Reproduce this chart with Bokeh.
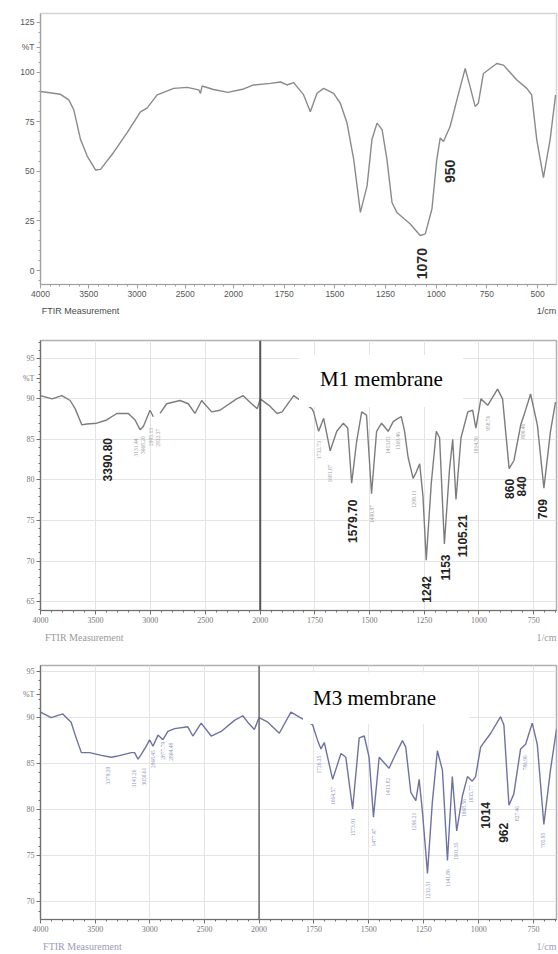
import numpy as np
from bokeh.plotting import figure
from bokeh.layouts import column
from bokeh.models import FixedTicker, Label, BoxAnnotation, Span, Range1d, LinearAxis
from bokeh.embed import file_html
from bokeh.resources import INLINE

# ---------------- data ----------------
# Panel A (top): silica-like spectrum
wn_a = [4000, 3793, 3707, 3655, 3585, 3516, 3430, 3378, 3243, 3102, 2964, 2894, 2791, 2619, 2480,
        2360, 2342, 2325, 2207, 2060, 1950, 1901, 1818, 1768, 1736, 1703, 1654, 1621, 1588, 1555,
        1506, 1473, 1440, 1407, 1374, 1341, 1317, 1292, 1267, 1243, 1218, 1194, 1128, 1079, 1054,
        1021, 997, 980, 964, 931, 898, 857, 833, 808, 792, 767, 701, 668, 602, 553, 529, 504, 471,
        438, 411]
t_a = [90.2, 88.8, 86, 81, 66, 57.7, 50.7, 51, 59.5, 69.5, 80, 82, 88.5, 91.8, 92.3,
       91, 89.3, 93, 91.2, 89.8, 91.5, 93.5, 94.3, 95, 93.5, 94.7, 88.5, 80, 89.3, 91.8,
       89.3, 84.3, 74.3, 56, 29.3, 42.7, 66, 74.3, 71, 56, 34.3, 29.3, 23.5, 17.7, 18.5,
       31, 56, 66.8, 65, 72.7, 86, 101.8, 92.7, 82.7, 84.3, 99.3, 104.3, 103.5, 96, 91.8, 88.5, 66, 46.8,
       66, 88.5]

# Panel M1 membrane
wn_m1 = [4000, 3894, 3806, 3730, 3685, 3624, 3579, 3488, 3397, 3306, 3200, 3139, 3094, 3064, 3003,
         2973, np.nan, 2912, 2852, 2730, 2655, 2594, 2533, 2442, 2367, 2215, 2155, 2079, 2027, 2000,
         1960, 1923, 1900, 1847, 1764, 1756, 1733, 1710, 1680, 1650, 1620, 1600, 1582, 1559, 1536,
         1514, 1491, 1468, 1445, 1415, 1392, 1370, 1355, 1340, 1324, 1301, 1286, 1271, 1256, 1241,
         1218, 1195, 1180, 1158, 1135, 1120, 1105, 1082, 1051, 1029, 1014, 991, 960, 915, 892,
         862, 840, 809, 794, 764, 733, 703, 673, 650]
t_m1 = [90.4, 90, 90.4, 89.8, 88.8, 86.8, 86.9, 87, 87.4, 88.2, 88.2, 87.4, 86.2, 86.6, 88.6,
        87.8, np.nan, 88.2, 89.4, 89.8, 89.4, 88.2, 89.8, 88.4, 88.6, 90, 90.4, 89.4, 88.8, 90,
        89.2, 88.2, 88.4, 90.4, 88.8, 88.4, 86, 87.6, 83.6, 86, 87, 86.4, 79.6, 84.8, 88.4,
        88, 78.3, 86, 87, 86, 87.2, 87.6, 87.8, 86, 82.8, 80.2, 81, 82, 78, 70.1,
        79.6, 86, 85.2, 72.1, 81.2, 85, 77.6, 85.2, 88.4, 88.6, 86.4, 90, 89.2, 91.2, 90,
        81.4, 82.4, 86.8, 88, 90.6, 86.8, 79, 86, 89.6]

# Panel M3 membrane
wn_m3 = [4000, 3902, 3796, 3720, 3674, 3626, 3550, 3443, 3352, 3306, 3169, 3139, 3108, 3078, 3032,
         3002, 2971, 2925, 2880, 2834, 2773, 2652, 2606, 2530, 2438, 2347, 2225, 2149, 2104, 2043,
         2000, 1960, 1908, 1855, 1756, 1733, 1718, 1703, 1665, 1627, 1605, 1574, 1544, 1521, 1499,
         1479, 1453, 1408, 1385, 1347, 1332, 1309, 1286, 1271, 1256, 1233, 1211, 1188, 1165, 1142,
         1120, 1100, 1074, 1051, 1029, 1014, 991, 945, 900, 885, 862, 840, 809, 786, 756,
         733, 703, 673, 645]
t_m3 = [90.6, 90, 90.4, 89.5, 87.8, 86.2, 86.2, 85.9, 85.7, 85.8, 86.2, 86.2, 85.5, 86, 86.9,
        87.6, 86.9, 88.1, 87.6, 88.5, 88.8, 89, 88, 89.4, 88, 88.5, 89.7, 90.2, 89.5, 88.7,
        90, 89.5, 88.3, 90.6, 89.2, 87.5, 86.6, 87.3, 83.3, 86.1, 85.7, 80.1, 87.8, 88, 85.7,
        79.2, 85.7, 84.5, 85.7, 87.5, 86.8, 81.9, 81, 83.3, 79.8, 73.1, 80.8, 86.4, 84.3, 74.5,
        83.6, 77.7, 81.5, 83.6, 83.1, 83.6, 86.8, 88.3, 90.1, 89.2, 80.5, 81.7, 86.6, 87.1, 89.4,
        87.1, 78.4, 84.3, 88.8]

# tick labels
x_ticks_a = [4000, 3500, 3000, 2500, 2000, 1750, 1500, 1250, 1000, 750, 500]
x_ticks_m = [4000, 3500, 3000, 2500, 2000, 1750, 1500, 1250, 1000, 750]
y_ticks_a = [0, 25, 50, 75, 100, 125]
y_ticks_m1 = [65, 70, 75, 80, 85, 90, 95]
y_ticks_m3 = [70, 75, 80, 85, 90, 95]
axis_caption = "FTIR Measurement"
axis_unit = "1/cm"

# peak annotations
a_peaks = ["1070", "950"]
a_peak_t = [3.5, 50]
a_peak_dx = [0, 4]

m1_peaks = ["3390.80", "1579.70", "1242", "1153", "1105.21", "860", "840", "709"]
m1_peak_t = [82.5, 74.9, 66.5, 69.2, 73.1, 78.9, 79.2, 76.4]
m1_peak_dx = [0, 0, 0, 0, 7, 0, 8, 0]
m1_small = ["3131.44", "3068.20", "2995.13", "2932.37", "1732.73", "1681.87", "1490.97",
            "1413.82", "1369.46", "1299.11", "1014.56", "958.76", "800.46"]
m1_small_t = [84.0, 84.3, 85.3, 85.2, 83.7, 80.8, 75.8, 84.3, 84.8, 77.6, 84.3, 87.0, 86.0]

m3_peaks = ["1014", "962"]
m3_peak_t = [79.4, 77.5]
m3_peak_dx = [10, 17]
m3_small = ["3379.29", "3141.26", "3050.61", "2968.45", "2877.79", "2804.48", "1726.35",
            "1664.57", "1573.91", "1477.47", "1413.82", "1296.21", "1232.51", "1141.86",
            "1101.35", "1068.56", "1035.77", "827.46", "786.96", "705.95"]
m3_small_t = [83.7, 83.4, 83.6, 85.5, 86.4, 86.3, 84.9, 81.5, 78.1, 77.0, 82.5, 78.7, 71.3,
              72.6, 75.5, 80.2, 81.7, 79.6, 85.1, 76.7]


def brk(w, k1, k2):
    """Split wavenumber axis: 4000-2000 compressed, below 2000 expanded."""
    w = np.asarray(w, dtype=float)
    return np.where(w >= 2000, (4000 - w) * k1, 2000 * k1 + (2000 - w) * k2)


def make_panel(height, left, top, bottom, xend, yr, k1, k2, wn, tt, xt, yt, ymin_step,
               line_color, serif, grid, outline_color, axis_color, label_color, pct_at,
               meas_color, caption_center, unit_center, cap_size, tick_size):
    p = figure(width=558, height=height, output_backend="svg", toolbar_location=None,
               x_range=Range1d(0, xend), y_range=Range1d(*yr),
               min_border_left=left, min_border_right=2, min_border_top=top,
               min_border_bottom=bottom)
    p.background_fill_color = "white"
    p.border_fill_color = "white"
    p.outline_line_color = outline_color
    p.outline_line_width = 1.5

    font = "Liberation Serif" if serif else "Liberation Sans"

    # x ticks
    xt_u = [round(float(v), 3) for v in brk(xt, k1, k2)]
    minors_w = list(np.arange(4000, 2000, -100)) + list(np.arange(2000, 300, -50))
    minors_u = [round(float(v), 3) for v in brk(minors_w, k1, k2) if 0 <= v <= xend]
    p.xaxis.ticker = FixedTicker(ticks=xt_u, minor_ticks=minors_u)
    p.xaxis.major_label_overrides = {u: str(w) for u, w in zip(xt_u, xt)}

    # y ticks (with %T label)
    yt_all = sorted(list(yt) + [pct_at])
    ymin = list(np.arange(yr[0] - yr[0] % ymin_step, yr[1], ymin_step))
    p.yaxis.ticker = FixedTicker(ticks=yt_all, minor_ticks=[float(v) for v in ymin])
    p.yaxis.major_label_overrides = {float(pct_at): "%T"}

    for ax in (p.xaxis, p.yaxis):
        ax.axis_line_color = axis_color
        ax.axis_line_width = 1.2
        ax.major_tick_line_color = axis_color
        ax.minor_tick_line_color = axis_color
        ax.major_tick_out = 4
        ax.major_tick_in = 0
        ax.minor_tick_out = 2
        ax.minor_tick_in = 0
        ax.major_label_text_font = font
        ax.major_label_text_font_size = tick_size
        ax.major_label_text_color = label_color
        ax.major_label_standoff = 2

    # caption row under the x axis ("FTIR Measurement" ... "1/cm")
    cap = LinearAxis(ticker=FixedTicker(ticks=[caption_center, unit_center]),
                     major_label_overrides={caption_center: axis_caption, unit_center: axis_unit})
    cap.axis_line_color = None
    cap.major_tick_line_color = None
    cap.minor_tick_line_color = None
    cap.major_label_standoff = 0
    cap.major_label_text_font = font
    cap.major_label_text_font_size = cap_size
    cap.major_label_text_color = meas_color
    p.add_layout(cap, "below")

    if grid:
        p.xgrid.ticker = FixedTicker(ticks=xt_u)
        p.ygrid.ticker = FixedTicker(ticks=list(yt))
        p.grid.grid_line_color = "#e4e4e4"
        p.grid.grid_line_width = 1
    else:
        p.grid.visible = False

    p.line(brk(wn, k1, k2), tt, line_color=line_color, line_width=1.4)
    return p


def add_peaks(p, texts, ts, dxs, k1, k2, size, color, bold=True, font="Liberation Sans"):
    for txt, t, dx in zip(texts, ts, dxs):
        xu = float(brk([float(txt)], k1, k2)[0])
        p.add_layout(Label(x=xu, y=t, x_offset=dx, text=txt, angle=np.pi / 2,
                           text_align="center", text_baseline="middle",
                           text_font=font, text_font_size=size, text_color=color,
                           text_font_style="bold" if bold else "normal"))


# ---------- Panel A ----------
kA1, kA2 = 0.0965, 0.2027
pA = make_panel(318, 40, 13, 32, 516, (-7, 129.5), kA1, kA2, wn_a, t_a, x_ticks_a, y_ticks_a, 5,
                "#8a8a8a", False, False, "#d4d4d4", "#a0a0a0", "#555555", 112.5,
                "#4a4a4a", 40.0, 506.0, "9px", "8.5px")
add_peaks(pA, a_peaks, a_peak_t, a_peak_dx, kA1, kA2, "14px", "#2a2a2a")

# ---------- Panel M1 ----------
kM1, kM2 = 0.1105, 0.22
pB = make_panel(327, 37, 22, 28, 519, (63.9, 97.2), kM1, kM2, wn_m1, t_m1, x_ticks_m, y_ticks_m1, 1,
                "#7c7c7c", True, True, "#b0b0b0", "#707070", "#777777", 92.5,
                "#9a9a9a", 44.0, 509.0, "10px", "8px")
pB.add_layout(Span(location=float(brk([2000], kM1, kM2)[0]), dimension="height",
                   line_color="#555555", line_width=2))
add_peaks(pB, m1_small, m1_small_t, [0] * len(m1_small), kM1, kM2, "5.5px", "#a0a0a0",
          bold=False, font="Liberation Serif")
pB.add_layout(BoxAnnotation(left=260, right=425, bottom=89.0, top=95.4,
                            fill_color="white", fill_alpha=1.0, line_alpha=0))
pB.add_layout(Label(x=281, y=92.4, text="M1 membrane", text_font="Liberation Serif",
                    text_font_size="21px", text_color="black", text_baseline="middle"))
add_peaks(pB, m1_peaks, m1_peak_t, m1_peak_dx, kM1, kM2, "12px", "#222222")

# ---------- Panel M3 ----------
kN1, kN2 = 0.1095, 0.22
pC = make_panel(309, 39, 20, 26, 517, (68.1, 95.65), kN1, kN2, wn_m3, t_m3, x_ticks_m, y_ticks_m3, 1,
                "#6e72a3", True, True, "#b0b0b0", "#707070", "#777777", 92.5,
                "#9a9ab5", 42.0, 507.0, "10px", "8px")
pC.add_layout(Span(location=float(brk([2000], kN1, kN2)[0]), dimension="height",
                   line_color="#6a6a6a", line_width=1.5))
add_peaks(pC, m3_small, m3_small_t, [0] * len(m3_small), kN1, kN2, "5.5px", "#9497c0",
          bold=False, font="Liberation Serif")
pC.add_layout(BoxAnnotation(left=263, right=429, bottom=89.3, top=94.9,
                            fill_color="white", fill_alpha=1.0, line_alpha=0))
pC.add_layout(Label(x=273, y=92.1, text="M3 membrane", text_font="Liberation Serif",
                    text_font_size="21px", text_color="black", text_baseline="middle"))
add_peaks(pC, m3_peaks, m3_peak_t, m3_peak_dx, kN1, kN2, "12px", "#222222")

layout = column(pA, pB, pC, spacing=0)
open("out.html", "w").write(file_html(layout, INLINE))
